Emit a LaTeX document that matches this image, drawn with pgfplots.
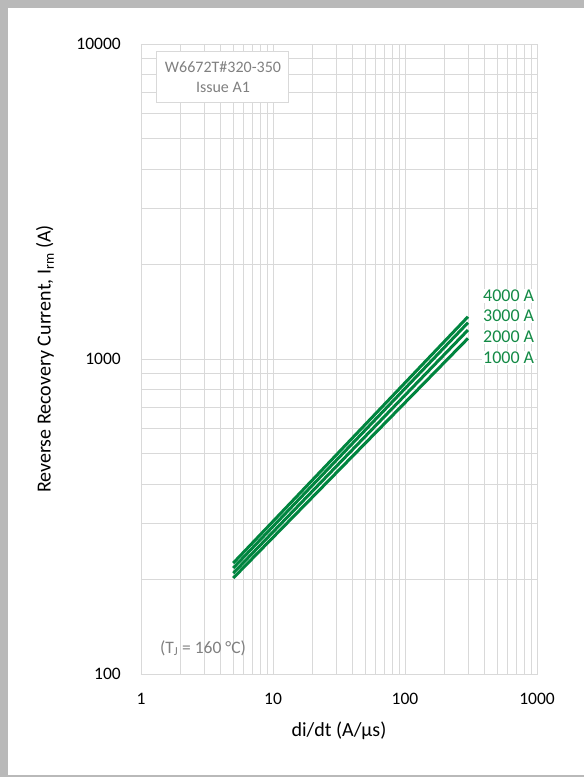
\documentclass[border=0pt]{standalone}
\usepackage{pgfplots}
\pgfplotsset{compat=1.18}
\usepackage{fontspec}
\setmainfont{Carlito}
\definecolor{lgreen}{HTML}{00853F}
\definecolor{tgreen}{HTML}{138A45}
\definecolor{gridc}{HTML}{D9D9D9}
\definecolor{txtgray}{HTML}{808080}
\begin{document}
\begin{tikzpicture}
\fill[gray!55] (-141bp,674bp) rectangle (443bp,-103bp);
\fill[white] (-133bp,666bp) rectangle (445bp,-101bp);
\useasboundingbox (-141bp,674bp) rectangle (443bp,-103bp);
\begin{axis}[
  at={(0,0)}, anchor=south west,
  scale only axis, width=396bp, height=630bp,
  xmode=log, ymode=log,
  xmin=1, xmax=1000, ymin=100, ymax=10000,
  xtick={1,10,100,1000}, xticklabels={1,10,100,1000},
  ytick={100,1000,10000}, yticklabels={100,1000,10000},
  grid=both,
  major grid style={gridc, line width=0.8bp},
  minor grid style={gridc, line width=0.8bp},
  axis line style={gridc, line width=0.8bp},
  tick style={draw=none},
  ticklabel style={font=\fontsize{17.5bp}{20bp}\selectfont, text=black},
  yticklabel style={anchor=east, inner sep=0pt, xshift=-20bp},
  xticklabel style={anchor=north, inner sep=0pt, yshift=-19bp},
  xlabel={di/dt (A/µs)},
  ylabel={Reverse Recovery Current, I\textsubscript{rm} (A)},
  every axis x label/.style={at={(axis description cs:0.5,-0.0905)}, anchor=center, font=\fontsize{20bp}{24bp}\selectfont},
  every axis y label/.style={at={(axis description cs:-0.2424,0.5)}, anchor=center, rotate=90, font=\fontsize{20bp}{24bp}\selectfont},
  clip=false,
]
\addplot[lgreen, line width=3bp] coordinates {(5,201.7) (300,1163)};
\addplot[lgreen, line width=3bp] coordinates {(5,209) (300,1236)};
\addplot[lgreen, line width=3bp] coordinates {(5,217) (300,1304)};
\addplot[lgreen, line width=3bp] coordinates {(5,225) (300,1362)};
\begin{scope}[every node/.style={anchor=west, fill=white, inner sep=1bp, text=tgreen, font=\fontsize{18bp}{20bp}\selectfont}]
\node at (axis cs:383,1585) {4000 A};
\node at (axis cs:383,1369) {3000 A};
\node at (axis cs:383,1175) {2000 A};
\node at (axis cs:383,1007) {1000 A};
\end{scope}
\node[draw=gridc, line width=1bp, fill=white, text=txtgray, minimum width=132bp, minimum height=51bp, align=center, font=\fontsize{16bp}{20bp}\selectfont] at (axis cs:4.18,7831) {W6672T\#320-350\\Issue A1};
\node[text=txtgray, font=\fontsize{17.5bp}{20bp}\selectfont, inner sep=0pt] at (axis cs:2.95,120.9) {(T\textsubscript{J} = 160 °C)};
\end{axis}
\end{tikzpicture}
\end{document}
